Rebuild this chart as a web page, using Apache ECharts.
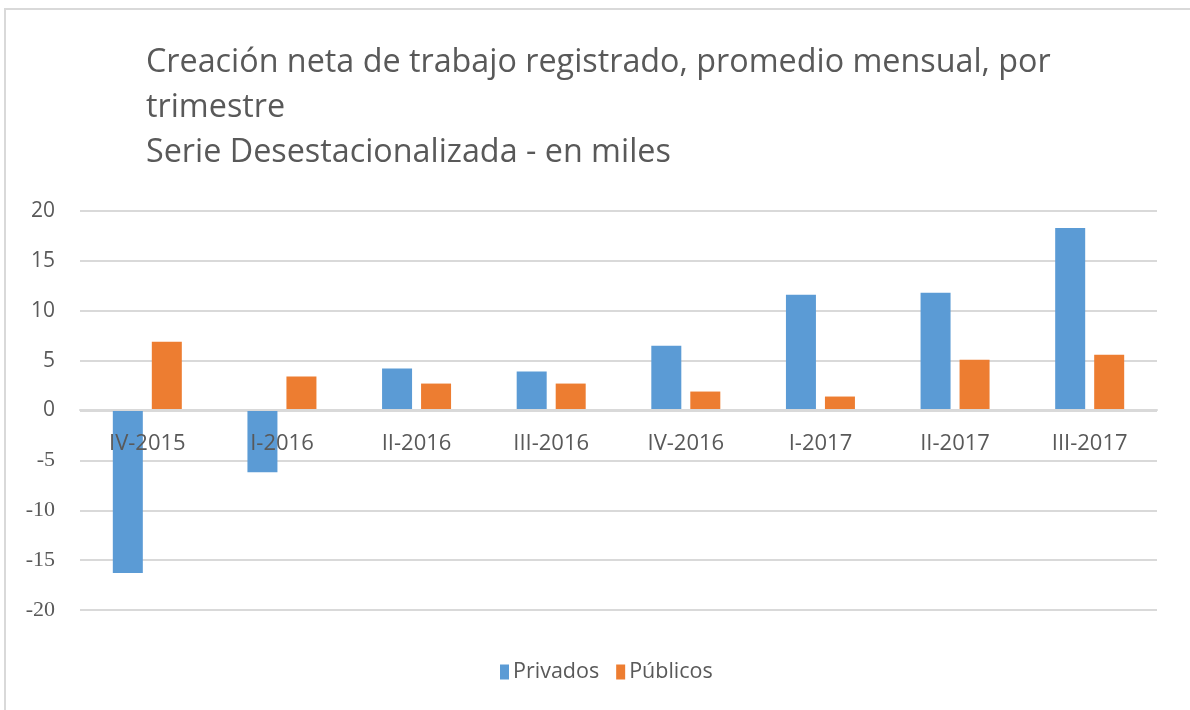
<!DOCTYPE html>
<html><head><meta charset="utf-8">
<script src="https://cdn.jsdelivr.net/npm/echarts@6/dist/echarts.min.js"></script>
<style>html,body{margin:0;padding:0;background:#fff}#c{width:1190px;height:710px}</style>
</head><body><div id="c"></div>
<script>
const categories = ['IV-2015','I-2016','II-2016','III-2016','IV-2016','I-2017','II-2017','III-2017'];
const privados = [-16.3, -6.2, 4.2, 3.9, 6.5, 11.6, 11.8, 18.3];
const publicos = [6.9, 3.4, 2.7, 2.7, 1.9, 1.4, 5.1, 5.6];
const titleLines = ['Creación neta de trabajo registrado, promedio mensual, por', 'trimestre', 'Serie Desestacionalizada - en miles'];

const chart = echarts.init(document.getElementById('c'));
const txt = '#595959';
chart.setOption({
  backgroundColor: '#fff',
  animation: false,
  graphic: [{type:'polyline', shape:{points:[[5,710],[5,9],[1190,9]]}, style:{stroke:'#d9d9d9', lineWidth:2, fill:null}}],
  title: {
    text: titleLines.join('\n'),
    left: 141, top: 35,
    textStyle: {fontFamily: 'Open Sans', fontSize: 32.3, fontWeight: 'normal', color: txt, lineHeight: 45}
  },
  legend: {
    data: ['Privados','Públicos'],
    bottom: 22, left: 495,
    itemWidth: 9, itemHeight: 15, itemGap: 17,
    icon: 'rect',
    textStyle: {fontFamily: 'Open Sans', fontSize: 21.5, color: txt, padding:[0,0,0,-1]}
  },
  grid: {left: 80, right: 33, top: 211, bottom: 100},
  xAxis: {
    type: 'category', data: categories,
    offset: -200, z: 5,
    axisLine: {onZero: false, lineStyle: {color: '#d9d9d9', width: 2}},
    axisTick: {show: false},
    axisLabel: {margin: 23, fontFamily: 'Open Sans', fontSize: 22, color: txt}
  },
  yAxis: {
    type: 'value', min: -20, max: 20, interval: 5,
    axisLine: {show: false}, axisTick: {show: false},
    splitLine: {lineStyle: {color: '#d9d9d9', width: 2}},
    axisLabel: {
      margin: 25, fontSize: 21, color: txt,
      formatter: v => v < 0 ? '{n|' + v + '}' : '{p|' + v + '}',
      rich: {
        p: {fontFamily: 'Open Sans', fontSize: 21, color: txt},
        n: {fontFamily: 'Liberation Serif', fontSize: 22, color: txt}
      }
    }
  },
  series: [
    {name: 'Privados', type: 'bar', data: privados, barWidth: 30, barGap: '30%', itemStyle: {color: '#5B9BD5'}},
    {name: 'Públicos', type: 'bar', data: publicos, barWidth: 30, itemStyle: {color: '#ED7D31'}}
  ]
});
</script></body></html>
